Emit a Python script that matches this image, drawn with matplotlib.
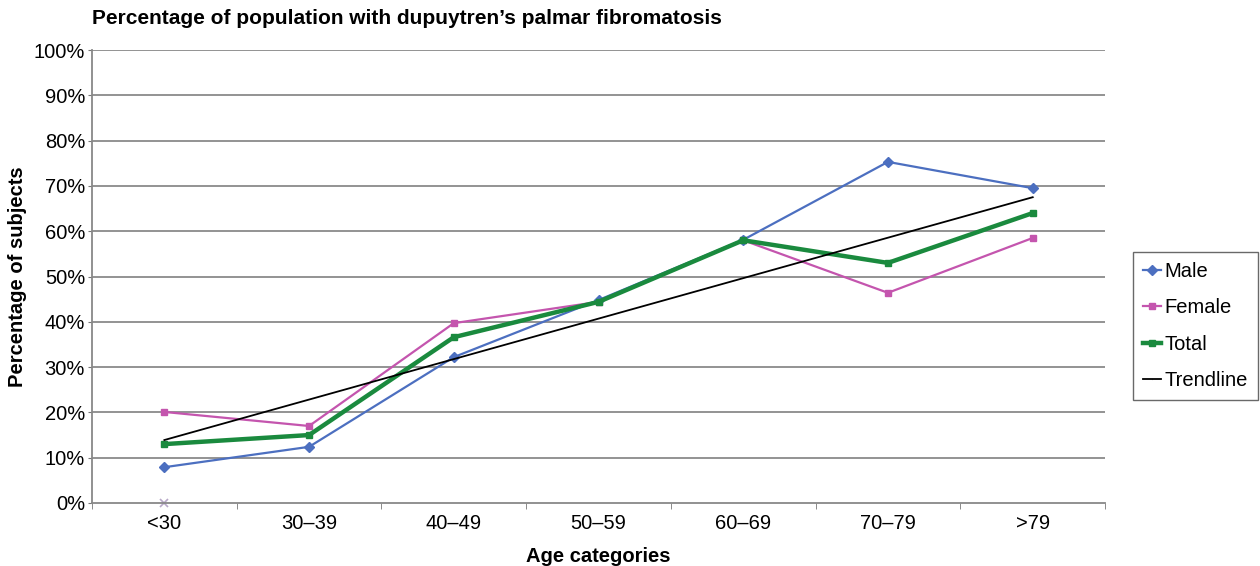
import matplotlib.pyplot as plt
import numpy as np

plt.rcParams['font.family'] = ['Liberation Sans', 'DejaVu Sans']

categories = ["<30", "30\u201339", "40\u201349", "50\u201359", "60\u201369", "70\u201379", ">79"]
male = [7.9, 12.4, 32.2, 44.8, 58.1, 75.3, 69.5]
female = [20.1, 17.0, 39.7, 44.4, 58.0, 46.4, 58.5]
total = [13.0, 15.0, 36.6, 44.4, 58.0, 53.0, 64.0]
trend_x = [0, 6]
trend_y = [13.9, 67.5]
extra_x = [0]
extra_y = [0.0]
yticks = list(range(0, 101, 10))

fig = plt.figure(figsize=(12.6, 5.66), dpi=100)
ax = fig.add_axes([92/1260, 1-503/566, (1105-92)/1260, (503-50)/566])

x = np.arange(len(categories))
ax.plot(x, male, color="#4C6FC0", lw=1.6, marker="D", ms=5.5, label="Male", zorder=4)
ax.plot(x, female, color="#C455AE", lw=1.6, marker="s", ms=4, label="Female", zorder=3)
ax.plot(x, total, color="#1A8A3E", lw=3.2, marker="s", ms=4, label="Total", zorder=5)
ax.plot(trend_x, trend_y, color="black", lw=1.3, marker="+", ms=0.1, label="Trendline", zorder=6)
ax.plot(extra_x, extra_y, color="#B8A8C8", lw=0, marker="x", ms=6, mew=1.2, zorder=2, clip_on=False)

ax.set_xlim(-0.5, len(categories)-0.5)
ax.set_ylim(0, 100)
ax.set_yticks(yticks)
ax.set_yticklabels([f"{v}%" for v in yticks], fontsize=14.5)
ax.set_xticks(x)
ax.set_xticklabels(categories, fontsize=14.5)
ax.set_xticks(np.arange(-0.5, len(categories), 1.0), minor=True)
ax.tick_params(axis="x", which="major", length=0, pad=8)
ax.tick_params(axis="x", which="minor", length=4, color="#777777", direction="out")
ax.tick_params(axis="y", length=3, color="#777777", direction="out", pad=2)

for v in yticks[1:]:
    ax.axhline(v, color="#8a8a8a", lw=1.3, zorder=1)
for s in ["top", "right"]:
    ax.spines[s].set_visible(False)
for s in ["left", "bottom"]:
    ax.spines[s].set_color("#888888")
    ax.spines[s].set_linewidth(1.3)

ax.set_ylabel("Percentage of subjects", fontsize=14.5, fontweight="bold", labelpad=5)
ax.set_xlabel("Age categories", fontsize=14.5, fontweight="bold", labelpad=10)
fig.text(92/1260, 1-18/566, "Percentage of population with dupuytren\u2019s palmar fibromatosis",
         fontsize=15, fontweight="bold", ha="left", va="center")

leg = ax.legend(loc="center left", bbox_to_anchor=(1133/1260, 1-326/566), bbox_transform=fig.transFigure,
                fontsize=14.5, frameon=True, fancybox=False, edgecolor="#444444",
                handlelength=0.9, handletextpad=0.15, borderpad=0.5, labelspacing=0.85,
                borderaxespad=0)
leg.get_frame().set_linewidth(1.0)

fig.savefig("out.png", dpi=100)
